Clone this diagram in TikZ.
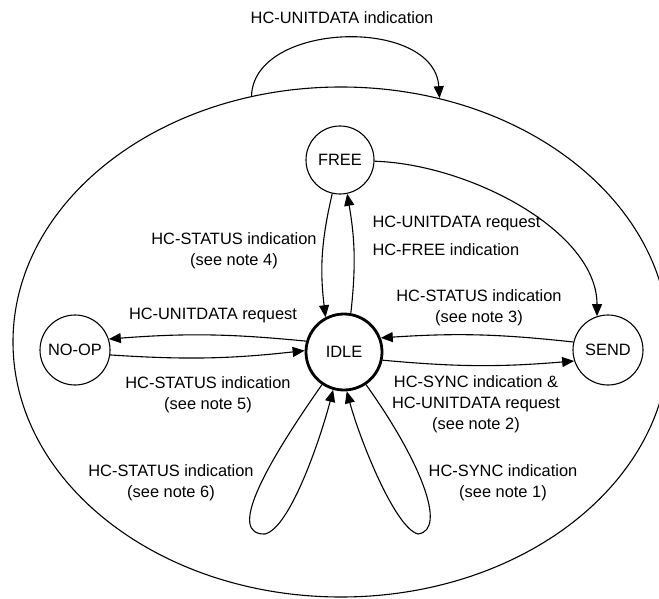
\documentclass[tikz,border=0pt]{standalone}
\usepackage{fontspec}
\setmainfont{Liberation Sans}
\usetikzlibrary{arrows.meta,shapes.geometric}
\begin{document}
\begin{tikzpicture}[x=1pt,y=-1pt,
  every node/.style={font=\fontsize{16.4}{21}\selectfont},
  state/.style={circle,draw,line width=1.1pt,inner sep=0pt,minimum size=70pt},
  trans/.style={line width=1.1pt,-{Triangle[length=12pt,width=10pt]}},
  lbl/.style={align=center}]
\useasboundingbox (0,0) rectangle (659,599);
\node[ellipse,draw,line width=1.1pt,minimum width=656pt,minimum height=510pt,inner sep=0pt] (super) at (341,342) {};
\node[state,minimum size=68pt] (free) at (340,160) {FREE};
\node[state,line width=2.8pt,minimum size=76pt] (idle) at (344,352) {IDLE};
\node[state] (noop) at (75,350) {NO-OP};
\node[state] (send) at (608,350) {SEND};
\draw[trans] (super.110) .. controls +(2,-75) and +(-5,-82) .. (super.68);
\draw[trans] (free.257) to[bend right=10] (idle.118);
\draw[trans] (idle.80) to[bend right=8] (free.282);
\draw[trans] (free.358) .. controls +(95,3) and +(0,-85) .. (send.108);
\draw[trans] (idle.164) to[bend right=5] (noop.18);
\draw[trans] (noop.-8) to[bend right=5] (idle.178);
\draw[trans] (send.167) to[bend right=5] (idle.21);
\draw[trans] (idle.-12) to[bend right=5] (send.198);
\draw[trans] (idle.-124) .. controls (262,470) and (228,535) .. (265,534) .. controls (290,528) and (320,440) .. (idle.-106);
\draw[trans] (idle.-56) .. controls (420,460) and (448,530) .. (418,534) .. controls (395,528) and (360,440) .. (idle.-86);
\node (ltop) at (342,18) {HC-UNITDATA indication};
\node[lbl] (lnote4) at (234,251) {HC-STATUS indication\\(see note 4)};
\node[anchor=west] (lsend) at (369,223) {HC-UNITDATA request};
\node[anchor=west] (lfree) at (369,250) {HC-FREE indication};
\node (lnoop) at (213,315) {HC-UNITDATA request};
\node[lbl] (lnote5) at (208,395) {HC-STATUS indication\\(see note 5)};
\node[lbl] (lnote3) at (479,308) {HC-STATUS indication\\(see note 3)};
\node[lbl] (lnote2) at (476,404) {HC-SYNC indication \&\\HC-UNITDATA request\\(see note 2)};
\node[lbl] (lnote6) at (171,483) {HC-STATUS indication\\(see note 6)};
\node[lbl] (lnote1) at (503,483) {HC-SYNC indication\\(see note 1)};
\end{tikzpicture}
\end{document}
